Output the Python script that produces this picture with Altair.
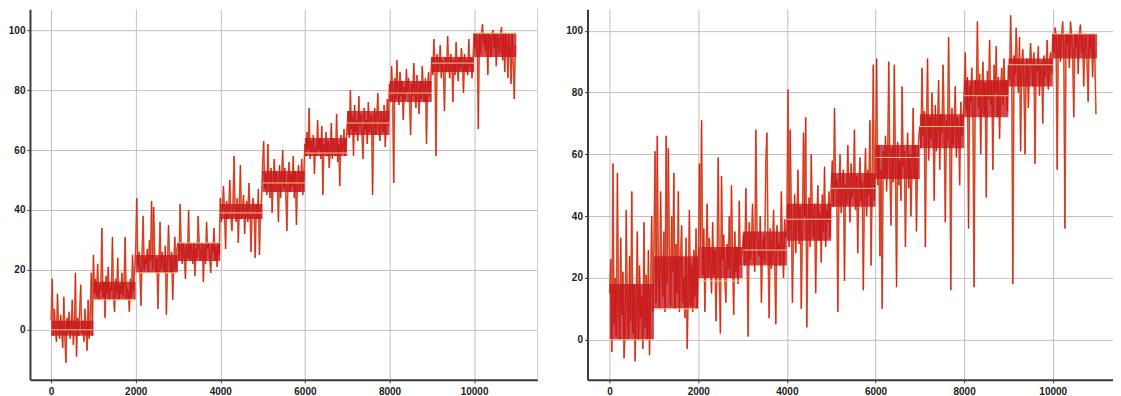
import altair as alt
import pandas as pd

# ---- data (one value every 25 samples) ----
STEP = 25
left_values = [
    # 0-1000 (level 0)
    3, 17, -2, 7, 1, -4, 12, 2, -3, 5, 0, -6, 11, -2, -11, 4, -1, 6, -3, 2,
    10, -5, 1, 19, -9, 4, -2, 6, 15, -1, 3, -4, 7, 1, -7, 10, -3, 5, 19, -2,
    # 1000-2000 (level 10)
    25, 12, 17, 11, 22, 10, 15, 13, 34, 11, 16, 4, 18, 12, 21, 10, 14, 13, 31, 11,
    6, 17, 12, 24, 10, 15, 12, 19, 11, 16, 31, 10, 14, 12, 6, 17, 11, 25, 13, 20,
    # 2000-3000 (level 20)
    27, 44, 21, 26, 19, 8, 25, 38, 20, 24, 22, 27, 19, 30, 23, 43, 20, 41, 25, 19,
    24, 7, 22, 36, 20, 26, 23, 19, 28, 5, 21, 35, 24, 19, 26, 10, 22, 31, 20, 27,
    # 3000-4000 (level 30)
    29, 23, 42, 27, 22, 29, 25, 17, 28, 24, 40, 23, 29, 26, 22, 29, 18, 27, 24, 38,
    29, 23, 26, 29, 16, 28, 22, 36, 27, 29, 24, 19, 29, 26, 34, 23, 28, 21, 29, 25,
    # 4000-5000 (level 40)
    44, 36, 41, 48, 39, 27, 43, 37, 40, 50, 38, 33, 42, 58, 39, 36, 44, 29, 41, 55,
    37, 40, 45, 32, 39, 43, 36, 49, 41, 26, 38, 44, 40, 24, 42, 37, 47, 25, 39, 43,
    # 5000-6000 (level 50)
    55, 63, 47, 52, 45, 62, 50, 44, 54, 39, 49, 57, 46, 53, 48, 36, 55, 44, 51, 60,
    47, 54, 45, 33, 50, 56, 46, 52, 48, 58, 44, 53, 35, 50, 55, 46, 49, 57, 45, 52,
    # 6000-7000 (level 60)
    62, 58, 66, 60, 74, 57, 63, 59, 65, 52, 61, 58, 70, 60, 64, 57, 68, 45, 62, 59,
    66, 58, 63, 54, 60, 69, 57, 64, 61, 58, 72, 56, 62, 48, 65, 59, 61, 67, 58, 63,
    # 7000-8000 (level 70)
    68, 73, 64, 80, 67, 71, 58, 75, 66, 70, 63, 78, 68, 72, 65, 57, 74, 67, 70, 62,
    76, 66, 69, 72, 45, 68, 74, 65, 71, 79, 67, 63, 73, 69, 66, 75, 61, 70, 77, 68,
    # 8000-9000 (level 80)
    82, 76, 88, 79, 49, 84, 77, 90, 80, 75, 86, 78, 83, 70, 81, 77, 87, 79, 84, 76,
    65, 82, 78, 89, 80, 74, 85, 79, 72, 83, 77, 88, 80, 76, 84, 62, 81, 86, 78, 83,
    # 9000-10000 (level 90)
    91, 85, 97, 88, 58, 92, 86, 89, 95, 84, 90, 87, 73, 91, 86, 98, 88, 84, 92, 89,
    76, 90, 85, 96, 88, 83, 91, 87, 94, 89, 79, 92, 86, 90, 85, 97, 88, 91, 84, 90,
    # 10000-11000 (level 100)
    99, 94, 99, 96, 67, 99, 92, 99, 102, 95, 99, 93, 99, 85, 99, 97, 91, 99, 100, 94,
    99, 88, 99, 96, 92, 99, 101, 90, 99, 86, 99, 95, 84, 99, 93, 82, 99, 89, 77, 95,
]

right_values = [
    # 0-1000
    15, 26, -4, 57, 5, 20, 1, 54, 12, 0, 33, 8, 22, -6, 3, 42, 10, 0, 27, 6,
    48, 2, 18, -7, 11, 35, 0, 24, 7, 14, -3, 38, 4, 21, 0, 29, -5, 16, 40, 9,
    # 1000-2000
    30, 61, 12, 66, 20, 10, 48, 25, 14, 35, 9, 66, 18, 62, 28, 11, 40, 22, 54, 10,
    31, 15, 48, 9, 26, 37, 12, 20, 7, 33, -3, 17, 42, 11, 24, 9, 29, 14, 36, 10,
    # 2000-3000
    22, 57, 30, 71, 21, 36, 9, 27, 44, 20, 33, 24, 15, 38, 21, 29, 6, 25, 59, 20,
    2, 53, 26, 34, 19, 12, 31, 23, 40, 20, 50, 27, 8, 35, 22, 30, 18, 45, 24, 28,
    # 3000-4000
    29, 34, 24, 49, 29, 1, 38, 26, 31, 44, 29, 22, 68, 35, 29, 27, 40, 12, 29, 33,
    25, 58, 67, 29, 7, 36, 23, 29, 42, 26, 5, 37, 29, 31, 24, 48, 29, 20, 39, 33,
    # 4000-5000
    36, 81, 30, 68, 41, 12, 34, 47, 28, 38, 55, 31, 43, 10, 36, 67, 40, 72, 4, 35,
    46, 30, 60, 39, 33, 44, 15, 37, 50, 32, 41, 25, 47, 35, 56, 30, 42, 38, 48, 33,
    # 5000-6000
    49, 58, 43, 75, 49, 52, 9, 47, 60, 41, 49, 55, 19, 50, 44, 63, 49, 38, 57, 46,
    49, 68, 42, 53, 28, 49, 59, 45, 51, 16, 49, 62, 40, 55, 47, 71, 24, 52, 89, 45,
    # 6000-7000
    58, 91, 50, 63, 27, 55, 10, 61, 52, 66, 48, 59, 90, 54, 37, 62, 51, 89, 57, 17,
    64, 50, 58, 45, 82, 56, 61, 30, 53, 67, 49, 60, 40, 56, 75, 52, 63, 35, 58, 65,
    # 7000-8000
    69, 62, 88, 66, 74, 30, 69, 91, 58, 72, 65, 80, 69, 45, 76, 61, 69, 84, 55, 73,
    67, 89, 69, 38, 71, 64, 98, 69, 16, 75, 63, 69, 82, 59, 72, 69, 50, 77, 66, 70,
    # 8000-9000
    80, 93, 74, 85, 36, 82, 77, 88, 71, 17, 84, 79, 103, 75, 86, 60, 81, 90, 73, 83,
    46, 87, 78, 97, 76, 84, 55, 89, 80, 95, 72, 85, 65, 82, 88, 76, 91, 79, 84, 74,
    # 9000-10000
    89, 84, 105, 89, 18, 92, 86, 101, 89, 80, 98, 61, 89, 94, 83, 60, 89, 91, 75, 88,
    96, 89, 82, 93, 57, 89, 87, 95, 79, 89, 90, 70, 92, 85, 89, 97, 81, 89, 93, 86,
    # 10000-11000
    99, 93, 101, 99, 55, 97, 99, 90, 99, 103, 94, 36, 99, 96, 99, 88, 103, 99, 92, 72,
    99, 95, 99, 86, 99, 102, 93, 99, 82, 97, 99, 89, 77, 99, 94, 99, 85, 99, 91, 73,
]

seg_start = [0, 1000, 2000, 3000, 4000, 5000, 6000, 7000, 8000, 9000, 10000]
seg_end = [1000, 2000, 3000, 4000, 5000, 6000, 7000, 8000, 9000, 10000, 11000]
step_levels = [0, 10, 19, 29, 39, 49, 59, 69, 79, 89, 99]

# darkest (solid) part of each segment
left_core_low = [-2, 10, 19, 23, 37, 46, 58, 65, 76, 86, 91]
left_core_high = [3, 16, 25, 29, 42, 53, 64, 73, 83, 91, 99]
right_core_low = [0, 10, 20, 24, 32, 43, 52, 62, 72, 82, 91]
right_core_high = [18, 27, 30, 35, 44, 54, 63, 73, 84, 91, 99]

x_ticks = [0, 2000, 4000, 6000, 8000, 10000]
y_ticks = [0, 20, 40, 60, 80, 100]

df_left = pd.DataFrame({"t": [i * STEP for i in range(len(left_values))], "v": left_values})
df_right = pd.DataFrame({"t": [i * STEP for i in range(len(right_values))], "v": right_values})
df_steps = pd.DataFrame({"start": seg_start, "end": seg_end, "level": step_levels})
df_core_left = pd.DataFrame({"start": seg_start, "end": seg_end, "lo": left_core_low, "hi": left_core_high})
df_core_right = pd.DataFrame({"start": seg_start, "end": seg_end, "lo": right_core_low, "hi": right_core_high})

FONT = "Liberation Sans"
GRID = "#c6bebe"
AXC = "#3a3a3a"


def axis_x():
    return alt.Axis(values=x_ticks, title=None, grid=True, gridColor=GRID, gridWidth=1,
                    domainColor=AXC, domainWidth=2, tickColor=AXC, tickSize=3,
                    labelFont=FONT, labelFontSize=10, labelFontWeight="bold",
                    labelColor="#222222", labelPadding=4, format="d")


def axis_y():
    return alt.Axis(values=y_ticks, title=None, grid=True, gridColor=GRID, gridWidth=1,
                    domainColor=AXC, domainWidth=2, tickColor=AXC, tickSize=3,
                    labelFont=FONT, labelFontSize=10, labelFontWeight="bold",
                    labelColor="#222222", labelPadding=2, format="d")


def panel(df, core, xdom, ydom, width, height, edge):
    xs = alt.Scale(domain=xdom, nice=False, zero=False)
    ys = alt.Scale(domain=ydom, nice=False, zero=False)
    base = alt.Chart(df)
    under = base.mark_line(color="#e9814c", strokeWidth=1.7, clip=True).encode(
        x=alt.X("t:Q", scale=xs, axis=axis_x()),
        y=alt.Y("v:Q", scale=ys, axis=axis_y()),
    )
    block = alt.Chart(core).mark_rect(color="#c8161e", opacity=0.78, clip=True).encode(
        x=alt.X("start:Q", scale=xs),
        x2="end:Q",
        y=alt.Y("lo:Q", scale=ys),
        y2="hi:Q",
    )
    over = base.mark_line(color="#c4161c", strokeWidth=0.8, opacity=0.8, clip=True).encode(
        x=alt.X("t:Q", scale=xs),
        y=alt.Y("v:Q", scale=ys),
    )
    steps = alt.Chart(df_steps).mark_rule(color="#f4d592", strokeWidth=1, opacity=0.9, clip=True).encode(
        x=alt.X("start:Q", scale=xs),
        x2="end:Q",
        y=alt.Y("level:Q", scale=ys),
    )
    layers = [under, block, over, steps]
    if edge:
        layers.append(
            alt.Chart(df_steps).mark_rule(color="#d6d0d0", strokeWidth=1).encode(
                x=alt.value(width), y=alt.value(0), y2=alt.value(height)
            )
        )
    return alt.layer(*layers).properties(width=width, height=height)


left = panel(df_left, df_core_left, [-500, 11500], [-16.7, 107], 508, 371, True)
right = panel(df_right, df_core_right, [-500, 11360], [-13, 107], 526, 371, False)

chart = alt.hconcat(left, right, spacing=27).properties(padding=0).configure_view(stroke=None)

chart.save("out.html", embed_options={"renderer": "svg", "actions": False})
